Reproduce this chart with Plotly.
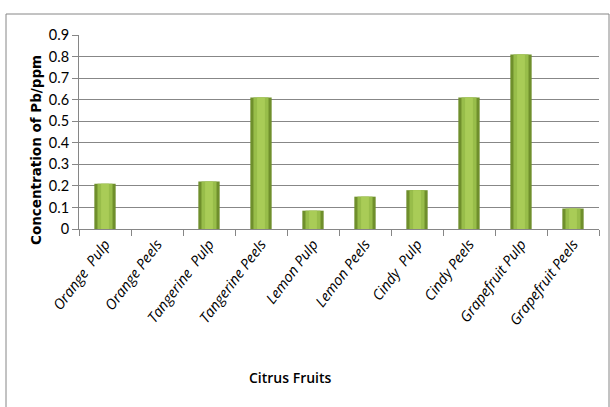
import plotly.graph_objects as go

categories = ["Orange  Pulp", "Orange Peels", "Tangerine  Pulp", "Tangerine Peels",
              "Lemon Pulp", "Lemon Peels", "Cindy  Pulp", "Cindy Peels",
              "Grapefruit Pulp", "Grapefruit Peels"]
values = [0.21, 0.0, 0.22, 0.61, 0.085, 0.15, 0.18, 0.61, 0.81, 0.095]
y_ticks = [0, 0.1, 0.2, 0.3, 0.4, 0.5, 0.6, 0.7, 0.8, 0.9]

fig = go.Figure()
fig.add_trace(go.Bar(x=categories, y=values, width=0.41,
                     marker=dict(color="#6f8f2c", line=dict(width=0)), hoverinfo="x+y"))
fig.add_trace(go.Bar(x=categories, y=values, width=0.29,
                     marker=dict(color="#98bd4a", line=dict(width=0)), hoverinfo="skip"))
fig.add_trace(go.Bar(x=categories, y=values, width=0.15,
                     marker=dict(color="#a9cc57", line=dict(width=0)), hoverinfo="skip"))

fig.update_layout(
    width=610, height=407, barmode="overlay", showlegend=False,
    paper_bgcolor="white", plot_bgcolor="white",
    margin=dict(l=79, r=11, t=35, b=178, autoexpand=False),
    font=dict(family="Lato, Liberation Sans", color="#000000"),
    xaxis=dict(tickangle=-53, tickmode="array", tickvals=categories,
               ticktext=[f"<i>{c}</i>" for c in categories],
               tickfont=dict(size=14.5, family="Open Sans", color="#000"),
               showline=True, linecolor="#868686", linewidth=1,
               ticks="outside", tickson="boundaries", ticklen=6, tickcolor="#868686",
               showgrid=False, range=[-0.5, 9.5]),
    yaxis=dict(range=[0, 0.9], tickvals=y_ticks, ticktext=[f"{v:g}" for v in y_ticks],
               tickfont=dict(size=14.5, family="Lato", color="#000"),
               showline=True, linecolor="#868686", linewidth=1,
               ticks="outside", ticklen=6, tickcolor="#868686",
               showgrid=True, gridcolor="#878787", gridwidth=1.3, zeroline=False),
    shapes=[dict(type="rect", xref="paper", yref="paper",
                 x0=(6 - 79) / 520, x1=(609 - 79) / 520,
                 y0=(229 - 410) / 194, y1=(229 - 14) / 194,
                 line=dict(color="#868686", width=1), fillcolor="rgba(0,0,0,0)", layer="below")],
    annotations=[
        dict(text="<b>Concentration of Pb/ppm</b>", xref="paper", yref="paper",
             x=(36 - 79) / 520, y=(229 - 150) / 194, textangle=-90, showarrow=False,
             font=dict(family="DejaVu Sans", size=13.5, color="#000"),
             xanchor="center", yanchor="middle"),
        dict(text="Citrus Fruits", xref="paper", yref="paper",
             x=(290 - 79) / 520, y=(229 - 377) / 194, showarrow=False,
             font=dict(family="Open Sans", size=14, color="#000", weight=600),
             xanchor="center", yanchor="middle"),
    ],
)
fig.write_html("out.html")
